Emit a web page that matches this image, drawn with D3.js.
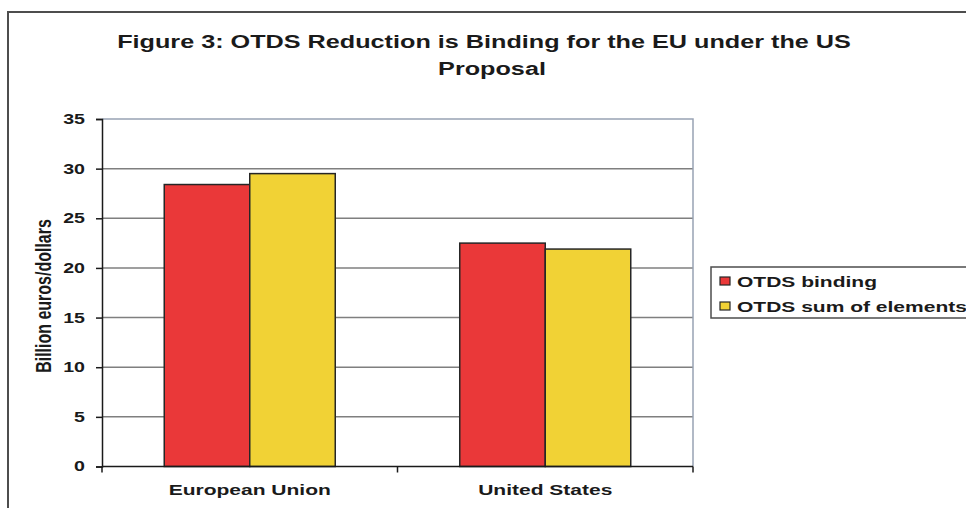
<!DOCTYPE html>
<html>
<head>
<meta charset="utf-8">
<script src="https://cdn.jsdelivr.net/npm/d3@7"></script>
<style>
  html, body { margin: 0; padding: 0; background: #fff; }
  svg { display: block; }
  text { font-family: "Liberation Sans", Arial, sans-serif; font-weight: bold; fill: #1a1a1a; }
</style>
</head>
<body>
<svg id="chart" width="966" height="508"></svg>
<script>
// Chart data
const categories = ["European Union", "United States"];
const seriesNames = ["OTDS binding", "OTDS sum of elements"];
const bindingValues = [28.4, 22.5];
const sumOfElementsValues = [29.5, 21.9];
const yTicks = [0, 5, 10, 15, 20, 25, 30, 35];
const titleLines = ["Figure 3: OTDS Reduction is Binding for the EU under the US", "Proposal"];
const yAxisTitle = "Billion euros/dollars";

const colors = ["#EA3839", "#F1D235"];
const seriesValues = [bindingValues, sumOfElementsValues];

const svg = d3.select("#chart");

// Wide text: stretch each label horizontally
const WIDEN = 1.4;
function widen(sel) {
  sel.each(function () {
    const w = this.getComputedTextLength();
    this.setAttribute("textLength", w * WIDEN);
    this.setAttribute("lengthAdjust", "spacingAndGlyphs");
  });
}

// Outer frame (top and left edges visible)
svg.append("path")
  .attr("d", "M8,520 L8,12 L980,12")
  .attr("fill", "none")
  .attr("stroke", "#4d4d4d")
  .attr("stroke-width", 2);

// Title
const titleX = [484, 492];
titleLines.forEach((line, i) => {
  svg.append("text")
    .attr("x", titleX[i])
    .attr("y", 48 + i * 27)
    .attr("text-anchor", "middle")
    .style("font-size", "18px")
    .text(line)
    .call(widen);
});

// Plot area
const plot = { left: 102, right: 693, top: 119, bottom: 466.5 };

const y = d3.scaleLinear().domain([0, 35]).range([plot.bottom, plot.top]);
const x0 = d3.scaleBand().domain(categories).range([plot.left, plot.right]).paddingInner(0).paddingOuter(0);
const x1 = d3.scaleBand().domain(seriesNames).range([0, x0.bandwidth()]).paddingInner(0).paddingOuter(0.728);

// Gridlines
svg.append("g")
  .selectAll("line")
  .data(yTicks.filter(t => t > 0 && t < 35))
  .join("line")
  .attr("x1", plot.left).attr("x2", plot.right)
  .attr("y1", d => y(d)).attr("y2", d => y(d))
  .attr("stroke", "#7f7f7f")
  .attr("stroke-width", 1.5);

// Plot frame: top and right edges
svg.append("path")
  .attr("d", `M${plot.left},${y(35)} L${plot.right},${y(35)} L${plot.right},${plot.bottom}`)
  .attr("fill", "none")
  .attr("stroke", "#98a2b4")
  .attr("stroke-width", 1.5);

// Bars
const groups = svg.append("g")
  .selectAll("g")
  .data(categories)
  .join("g")
  .attr("transform", d => `translate(${x0(d)},0)`);

groups.selectAll("rect")
  .data((d, ci) => seriesNames.map((s, si) => ({ s, si, v: seriesValues[si][ci] })))
  .join("rect")
  .attr("x", d => x1(d.s))
  .attr("width", x1.bandwidth())
  .attr("y", d => y(d.v))
  .attr("height", d => y(0) - y(d.v))
  .attr("fill", d => colors[d.si])
  .attr("stroke", "#262626")
  .attr("stroke-width", 1.5);

// Y axis
const yAxis = svg.append("g")
  .attr("transform", `translate(${plot.left},0)`)
  .call(d3.axisLeft(y).tickValues(yTicks).tickSize(6).tickPadding(11).tickFormat(d3.format("d")));
yAxis.select(".domain").attr("stroke", "#1a1a1a").attr("stroke-width", 1.5);
yAxis.selectAll(".tick line").attr("stroke", "#1a1a1a").attr("stroke-width", 1.5);
yAxis.selectAll(".tick text")
  .style("font-size", "14px")
  .style("font-family", "'Liberation Sans', Arial, sans-serif")
  .style("font-weight", "bold")
  .attr("fill", "#1a1a1a")
  .call(widen);

// X axis with ticks at category boundaries
svg.append("line")
  .attr("x1", plot.left).attr("x2", plot.right)
  .attr("y1", plot.bottom).attr("y2", plot.bottom)
  .attr("stroke", "#1a1a1a").attr("stroke-width", 1.5);

const boundaries = categories.map(c => x0(c)).concat([x0(categories[categories.length - 1]) + x0.bandwidth()]);
svg.append("g")
  .selectAll("line")
  .data(boundaries)
  .join("line")
  .attr("x1", d => d).attr("x2", d => d)
  .attr("y1", plot.bottom).attr("y2", plot.bottom + 6)
  .attr("stroke", "#1a1a1a").attr("stroke-width", 1.5);

svg.append("g")
  .selectAll("text")
  .data(categories)
  .join("text")
  .attr("x", d => x0(d) + x0.bandwidth() / 2)
  .attr("y", 495)
  .attr("text-anchor", "middle")
  .style("font-size", "15px")
  .text(d => d)
  .call(widen);

// Y axis title
svg.append("text")
  .attr("transform", "translate(51,296) rotate(-90) scale(1,1.4)")
  .attr("text-anchor", "middle")
  .style("font-size", "16px")
  .text(yAxisTitle);

// Legend
const legend = svg.append("g");
legend.append("rect")
  .attr("x", 711).attr("y", 267)
  .attr("width", 300).attr("height", 51)
  .attr("fill", "#fff")
  .attr("stroke", "#4d4d4d")
  .attr("stroke-width", 1.5);

seriesNames.forEach((name, i) => {
  legend.append("rect")
    .attr("x", 720).attr("y", 277 + i * 25)
    .attr("width", 10).attr("height", 8)
    .attr("fill", colors[i])
    .attr("stroke", "#262626")
    .attr("stroke-width", 1.2);
  legend.append("text")
    .attr("x", 737).attr("y", 286.5 + i * 25)
    .style("font-size", "15px")
    .text(name)
    .call(widen);
});
</script>
</body>
</html>
